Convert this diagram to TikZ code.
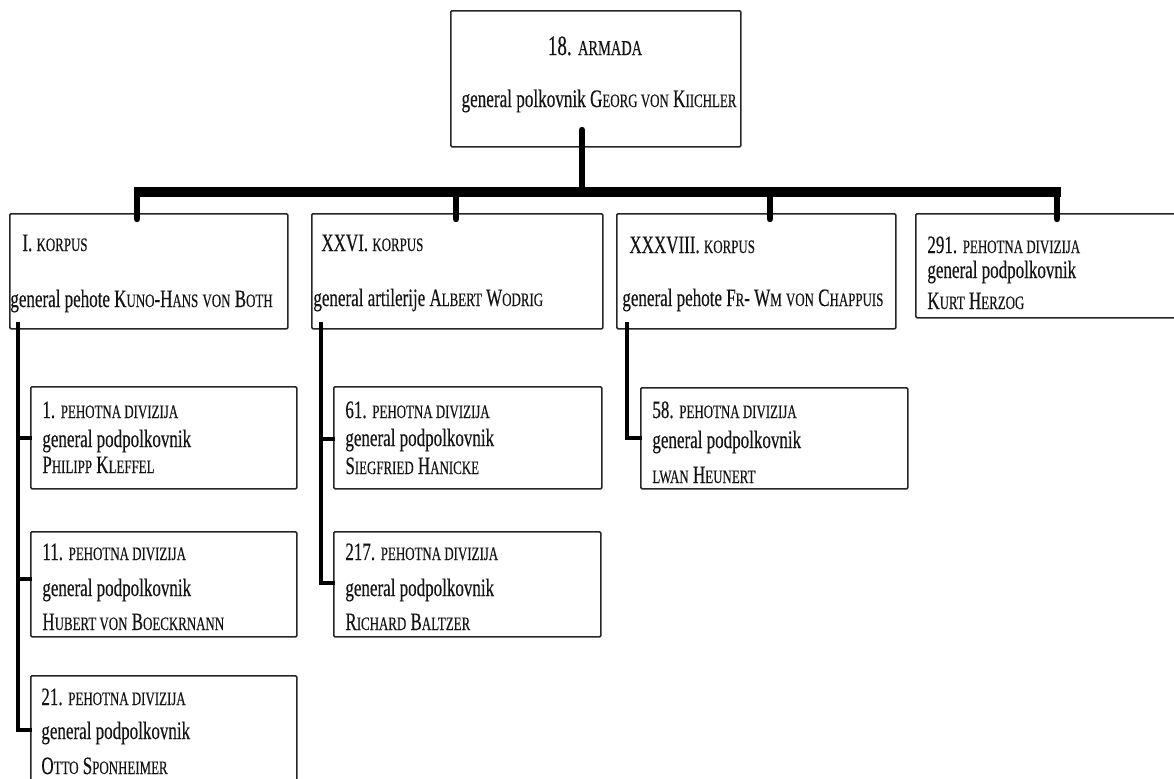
\documentclass[tikz,border=0pt]{standalone}
\usepackage{fontspec}
\setmainfont{Liberation Serif}[FakeStretch=0.68,FakeBold=0.35]
\newcommand\sk[1]{{\fontsize{9.5pt}{11pt}\selectfont #1}}
\newcommand\skb[1]{{\fontsize{10.6pt}{12pt}\selectfont #1}}
\tikzset{
  box/.style={draw=black!85, line width=0.8pt, rounded corners=0.6pt, anchor=north west, inner sep=0pt},
  txt/.style={anchor=base west, inner sep=0pt, text=black!92, font=\fontsize{12.5pt}{14pt}\selectfont},
  ttl/.style={anchor=base, inner sep=0pt, text=black!92, font=\fontsize{14pt}{16pt}\selectfont},
  busline/.style={line width=5pt},
  drop/.style={line width=3.2pt, line cap=round},
  sub/.style={line width=1.7pt}
}
\begin{document}
\begin{tikzpicture}[x=0.5pt,y=-0.5pt]
\useasboundingbox (0,0) rectangle (1174,778);
\clip (0,0) rectangle (1174,778);
% boxes
\node[box, minimum width=145pt, minimum height=68pt] (army) at (450,10) {};
\node[box, minimum width=139pt, minimum height=57.5pt] (k1) at (9,213) {};
\node[box, minimum width=145.5pt, minimum height=57.5pt] (k26) at (311,213) {};
\node[box, minimum width=139.5pt, minimum height=57.5pt] (k38) at (616,213) {};
\node[box, minimum width=140pt, minimum height=52pt] (d291) at (915,213) {};
\node[box, minimum width=133pt, minimum height=51pt] (d1) at (30,386) {};
\node[box, minimum width=133pt, minimum height=52.5pt] (d11) at (30,531) {};
\node[box, minimum width=133pt, minimum height=60pt] (d21) at (30,675) {};
\node[box, minimum width=134pt, minimum height=51pt] (d61) at (333,386) {};
\node[box, minimum width=133.5pt, minimum height=52.5pt] (d217) at (333,531) {};
\node[box, minimum width=133.5pt, minimum height=50.5pt] (d58) at (640,387) {};
% texts
\node[ttl] (armyA) at (595,55) {18. \skb{ARMADA}};
\node[ttl, font=\fontsize{12.6pt}{15pt}\selectfont] (armyB) at (599,107) {general polkovnik G\sk{EORG VON} K\sk{IICHLER}};
\node[txt] (k1a) at (22,251) {I. \sk{KORPUS}};
\node[txt] (k1b) at (10,307) {general pehote K\sk{UNO}-H\sk{ANS} \sk{VON} B\sk{OTH}};
\node[txt] (k26a) at (321,251) {XXVI. \sk{KORPUS}};
\node[txt] (k26b) at (313,306) {general artilerije A\sk{LBERT} W\sk{ODRIG}};
\node[txt] (k38a) at (629,253) {XXXVIII. \sk{KORPUS}};
\node[txt] (k38b) at (622,306) {general pehote F\sk{R}- W\sk{M} \sk{VON} C\sk{HAPPUIS}};
\node[txt] (d291a) at (927,253) {291. \sk{PEHOTNA DIVIZIJA}};
\node[txt] (d291b) at (927,278) {general podpolkovnik};
\node[txt] (d291c) at (927,309) {K\sk{URT} H\sk{ERZOG}};
\node[txt] (d1a) at (42,418) {1. \sk{PEHOTNA DIVIZIJA}};
\node[txt] (d1b) at (42,447) {general podpolkovnik};
\node[txt] (d1c) at (42,473) {P\sk{HILIPP} K\sk{LEFFEL}};
\node[txt] (d11a) at (42,560) {11. \sk{PEHOTNA DIVIZIJA}};
\node[txt] (d11b) at (42,596) {general podpolkovnik};
\node[txt] (d11c) at (42,630) {H\sk{UBERT VON} B\sk{OECKRNANN}};
\node[txt] (d21a) at (41,705) {21. \sk{PEHOTNA DIVIZIJA}};
\node[txt] (d21b) at (41,739) {general podpolkovnik};
\node[txt] (d21c) at (41,774) {O\sk{TTO} S\sk{PONHEIMER}};
\node[txt] (d61a) at (345,418) {61. \sk{PEHOTNA DIVIZIJA}};
\node[txt] (d61b) at (345,446) {general podpolkovnik};
\node[txt] (d61c) at (345,474) {S\sk{IEGFRIED} H\sk{ANICKE}};
\node[txt] (d217a) at (345,560) {217. \sk{PEHOTNA DIVIZIJA}};
\node[txt] (d217b) at (345,596) {general podpolkovnik};
\node[txt] (d217c) at (345,630) {R\sk{ICHARD} B\sk{ALTZER}};
\node[txt] (d58a) at (652,418) {58. \sk{PEHOTNA DIVIZIJA}};
\node[txt] (d58b) at (652,448) {general podpolkovnik};
\node[txt] (d58c) at (652,483) {\sk{LWAN} H\sk{EUNERT}};
% connector coordinates
\coordinate (armyT) at (582,130);
\coordinate (busJ) at (582,192);
\coordinate (busL) at (134,192);
\coordinate (busR) at (1061,192);
\coordinate (j1) at (137,192);  \coordinate (e1) at (137,219);
\coordinate (j2) at (456,192);  \coordinate (e2) at (456,219);
\coordinate (j3) at (770,192);  \coordinate (e3) at (770,219);
\coordinate (j4) at (1057,192); \coordinate (e4) at (1057,219);
\coordinate (s1) at (18,322);
\coordinate (t1) at (32,438);
\coordinate (t11) at (32,579);
\coordinate (t21) at (32,730);
\coordinate (s26) at (321,322);
\coordinate (t61) at (335,439);
\coordinate (t217) at (335,583);
\coordinate (s38) at (627,322);
\coordinate (t58) at (642,438);
% connectors
\draw[busline] (busL) -- (busR);
\draw[drop] (armyT) -- (busJ);
\draw[drop] (j1) -- (e1);
\draw[drop] (j2) -- (e2);
\draw[drop] (j3) -- (e3);
\draw[drop] (j4) -- (e4);
\draw[sub] (s1) |- (t1);
\draw[sub] (s1) |- (t11);
\draw[sub] (s1) |- (t21);
\draw[sub] (s26) |- (t61);
\draw[sub] (s26) |- (t217);
\draw[sub] (s38) |- (t58);
\end{tikzpicture}
\end{document}
